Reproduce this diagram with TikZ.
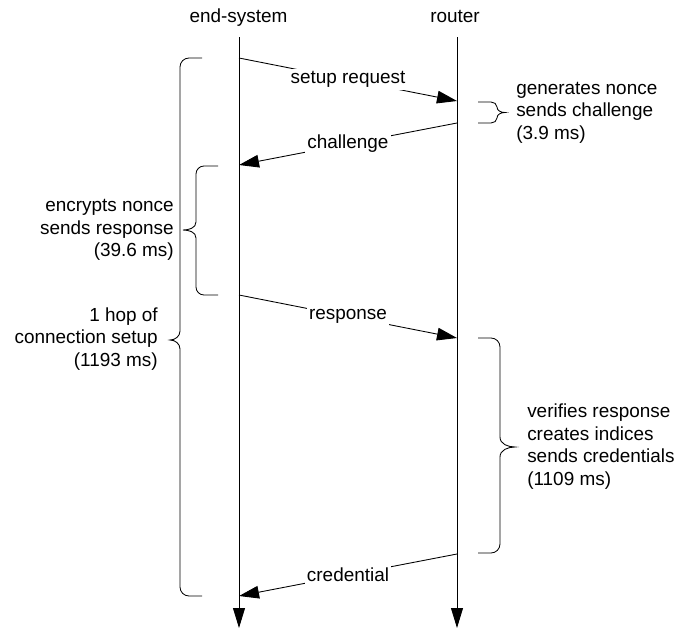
\documentclass[tikz,border=0pt]{standalone}
\usepackage{fontspec}
\setmainfont{Liberation Sans}
\usetikzlibrary{arrows.meta}

\begin{document}
\begin{tikzpicture}[x=0.75pt,y=0.75pt,
  every node/.style={font=\fontsize{14.2}{16.8}\selectfont},
  lifeline/.style={line width=0.65pt,-{Triangle[length=15pt,width=9pt]}},
  msg/.style={line width=0.65pt,-{Triangle[length=15pt,width=9.5pt]}},
  msglabel/.style={fill=white,inner sep=1.5pt,pos=0.5},
  bracepath/.style={line width=0.65pt},
  note/.style={inner sep=0pt}]
\useasboundingbox (0,0) rectangle (693,-629);

% participants
\node[anchor=base] (es) at (238.5,-22) {end-system};
\node[anchor=base] (rt) at (455,-22) {router};

% lifelines
\coordinate (esTop) at (239,-37);
\coordinate (esBot) at (239,-628);
\coordinate (rtTop) at (457,-37);
\coordinate (rtBot) at (457,-628);
\draw[lifeline] (esTop) -- (esBot);
\draw[lifeline] (rtTop) -- (rtBot);

% message end points on the lifelines
\coordinate (m1a) at (239,-58);
\coordinate (m1b) at (457,-101);
\coordinate (m2a) at (457,-123);
\coordinate (m2b) at (239,-165);
\coordinate (m3a) at (239,-295);
\coordinate (m3b) at (457,-338);
\coordinate (m4a) at (457,-554);
\coordinate (m4b) at (239,-596);

% messages
\draw[msg] (m1a) -- node[msglabel] (l1) {setup request} (m1b);
\draw[msg] (m2a) -- node[msglabel] (l2) {challenge} (m2b);
\draw[msg] (m3a) -- node[msglabel] (l3) {response} (m3b);
\draw[msg] (m4a) -- node[msglabel] (l4) {credential} (m4b);

% brace: router generates challenge
\draw[bracepath] (478,-102) -- (491,-102) to[out=0,in=90] (497,-107)
  to[out=-90,in=180] (505,-112.5) to[out=180,in=90] (497,-118)
  to[out=-90,in=0] (491,-123) -- (478,-123);
\node[note,anchor=west,align=left] (gen) at (516,-112.5)
  {generates nonce\\sends challenge\\(3.9 ms)};

% brace: end-system computes response
\draw[bracepath] (218,-166) -- (204,-166) to[out=180,in=90] (196,-174)
  -- (196,-222) to[out=-90,in=0] (183,-230) to[out=0,in=90] (196,-238)
  -- (196,-287) to[out=-90,in=180] (204,-295) -- (218,-295);
\node[note,anchor=east,align=right] (enc) at (174,-230)
  {encrypts nonce\\sends response\\(39.6 ms)};

% brace: whole hop
\draw[bracepath] (202,-58) -- (189,-58) to[out=180,in=90] (180,-67)
  -- (180,-331) to[out=-90,in=0] (170,-340) to[out=0,in=90] (180,-349)
  -- (180,-587) to[out=-90,in=180] (189,-596) -- (202,-596);
\node[note,anchor=east,align=right] (hop) at (158,-339)
  {1 hop of\\connection setup\\(1193 ms)};

% brace: router verifies and answers
\draw[bracepath] (478,-338) -- (491,-338) to[out=0,in=90] (500,-347)
  -- (500,-437) to[out=-90,in=180] (515,-447) to[out=180,in=90] (500,-457)
  -- (500,-544) to[out=-90,in=0] (491,-553) -- (478,-553);
\node[note,anchor=west,align=left] (ver) at (527,-446.5)
  {verifies response\\creates indices\\sends credentials\\(1109 ms)};
\end{tikzpicture}
\end{document}
